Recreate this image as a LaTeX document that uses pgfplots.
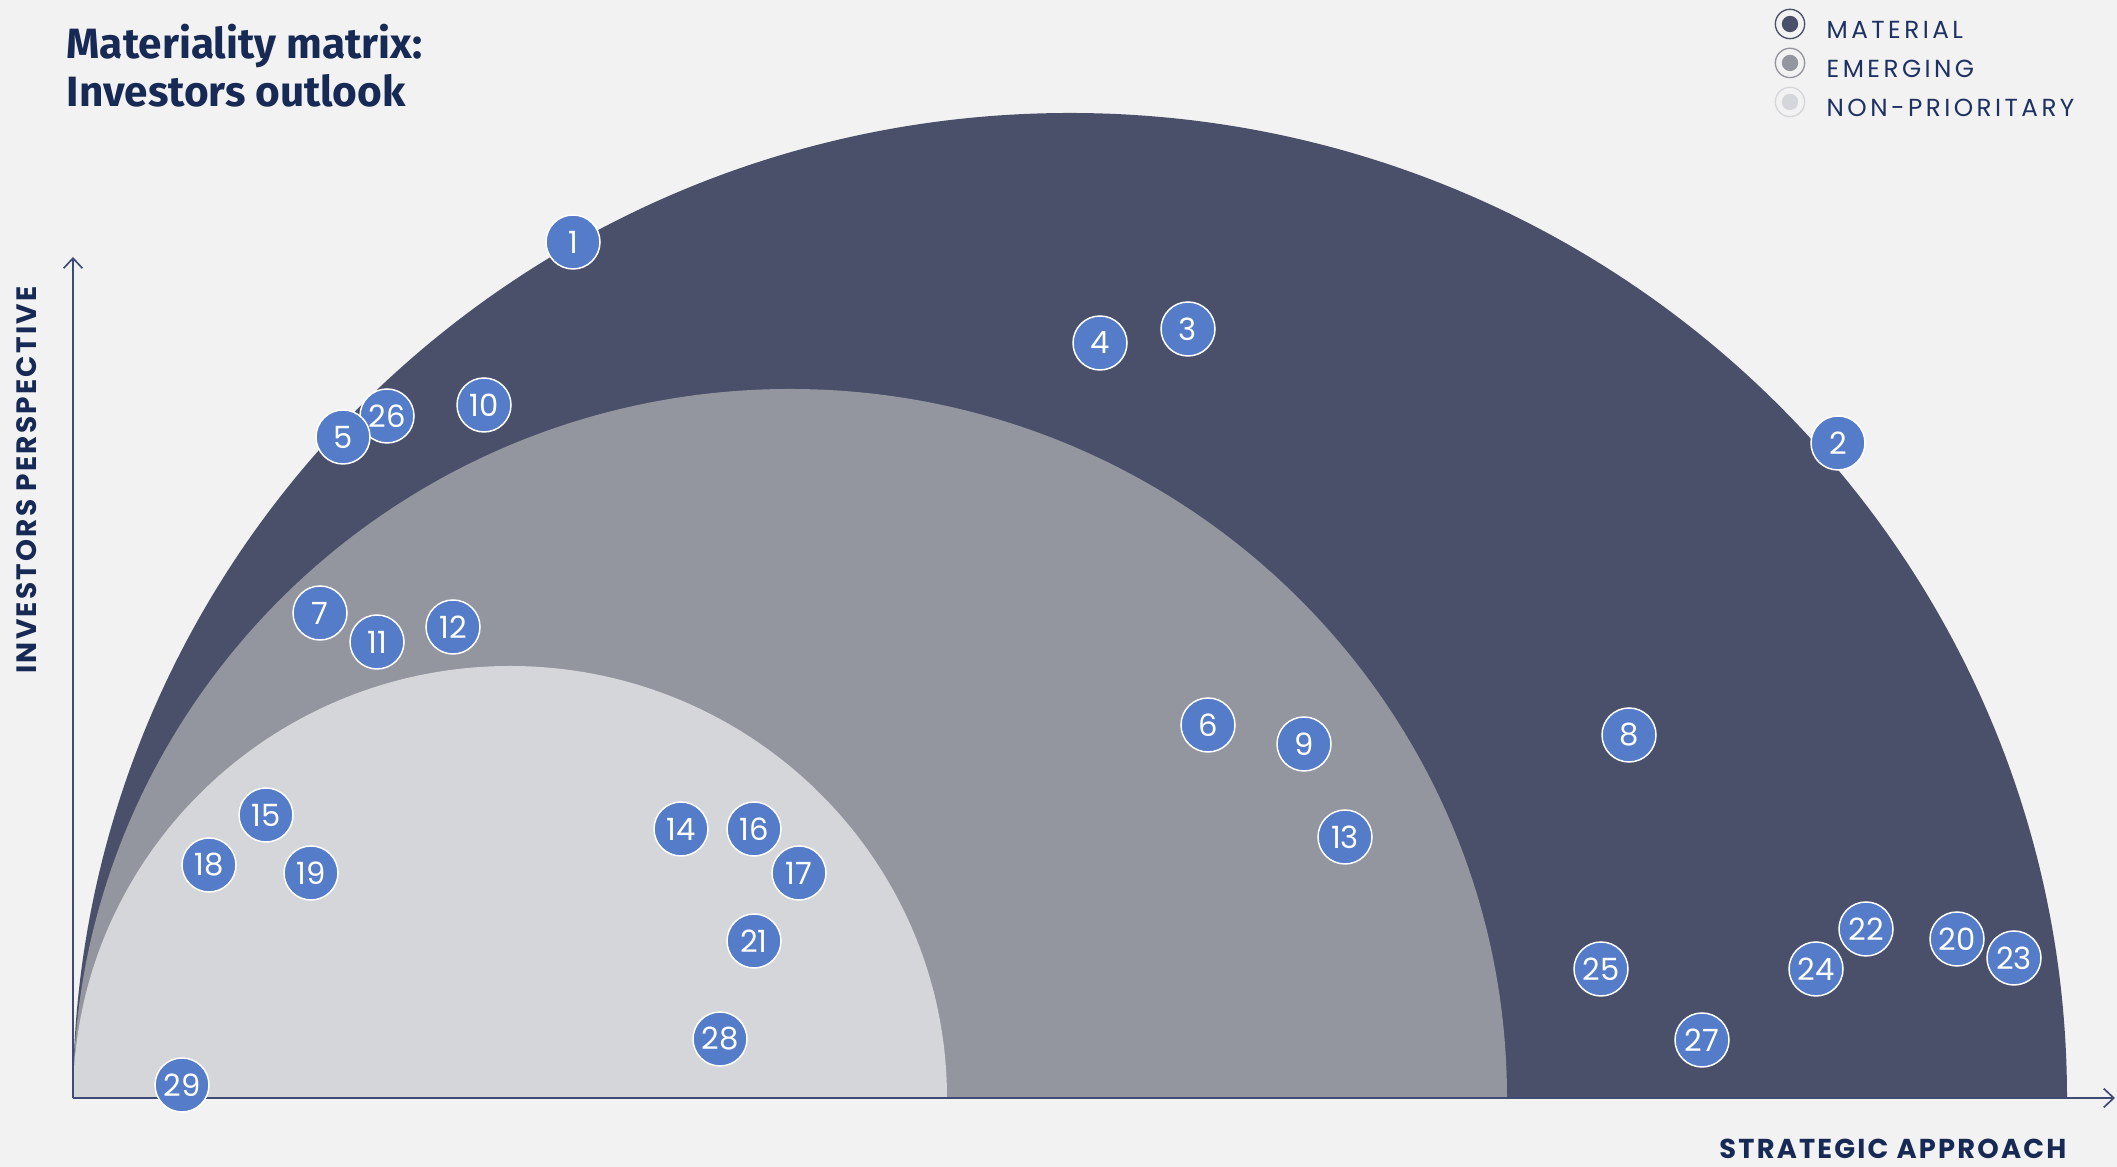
\documentclass[border=0pt]{standalone}
\usepackage{fontspec}
\setmainfont{Poppins}
\newfontfamily\titlefont{Fira Sans}
\newfontfamily\legfont[LetterSpace=14]{Poppins}
\newfontfamily\labfont[LetterSpace=8]{Poppins}
\usepackage{pgfplots}
\usepackage{pgfplotstable}
\pgfplotsset{compat=1.18}
\usetikzlibrary{arrows.meta}
\definecolor{bg}{HTML}{F2F2F2}
\definecolor{zdark}{HTML}{4A5069}
\definecolor{zmed}{HTML}{93959F}
\definecolor{zlight}{HTML}{D5D6DA}
\definecolor{bubble}{HTML}{547CC8}
\definecolor{navy}{HTML}{172A55}
\definecolor{legtext}{HTML}{1E3162}
\definecolor{axiscol}{HTML}{3D4B75}

\pgfplotstableread{
x y n
500 856 1
1765 655 2
1115 769 3
1027 755 4
314 682 26
270 661 5
1135 373 6
247 485 7
1556 363 8
1231 354 9
411 693 10
304 456 11
380 471 12
1272 261 13
608 269 14
193 283 15
681 269 16
726 225 17
136 233 18
238 225 19
1884 159 20
681 157 21
1793 169 22
1941 140 23
1743 129 24
1528 129 25
1629 58 27
647 59 28
109 13 29
}\bubbles

\begin{document}
\begin{tikzpicture}
\begin{axis}[
  scale only axis, width=635.1pt, height=350.1pt,
  xmin=-73, xmax=2044, ymin=-69, ymax=1098,
  hide axis, clip=false,
  legend style={draw=none, fill=none, at={(axis cs:1701,1090)}, anchor=north west,
    inner sep=0pt, row sep=1.35pt, font=\legfont\fontsize{7.4}{7.4}\selectfont, text=legtext,
    nodes={inner sep=0pt}},
  legend cell align=left,
  /tikz/every odd column/.append style={column sep=6.4pt},
]
\fill[bg] (axis cs:-73,-69) rectangle (axis cs:2044,1098);
\begin{scope}
\clip (axis cs:-73,0) rectangle (axis cs:2044,1098);
\fill[zdark] (axis cs:997,0) ellipse [x radius=299.1pt, y radius=295.5pt];
\fill[zmed] (axis cs:717,0) ellipse [x radius=215.1pt, y radius=212.7pt];
\fill[zlight] (axis cs:437,0) ellipse [x radius=131.1pt, y radius=129.6pt];
\end{scope}
\draw[axiscol, line width=0.5pt, -{Straight Barb[length=3pt,width=5.6pt]}] (axis cs:0,0) -- (axis cs:0,841);
\draw[axiscol, line width=0.5pt, -{Straight Barb[length=3pt,width=5.6pt]}] (axis cs:0,0) -- (axis cs:2042,0);

\addlegendimage{legend image code/.code={\draw[zdark, line width=0.4pt] (4.4pt,2.4pt) circle (4.4pt); \fill[zdark] (4.4pt,2.4pt) circle (2.25pt);}}
\addlegendentry{MATERIAL}
\addlegendimage{legend image code/.code={\draw[zmed, line width=0.4pt] (4.4pt,2.4pt) circle (4.4pt); \fill[zmed] (4.4pt,2.4pt) circle (2.25pt);}}
\addlegendentry{EMERGING}
\addlegendimage{legend image code/.code={\draw[zlight, line width=0.4pt] (4.4pt,2.4pt) circle (4.4pt); \fill[zlight] (4.4pt,2.4pt) circle (2.25pt);}}
\addlegendentry{NON-PRIORITARY}

\addplot[only marks, mark=*, mark size=8.1pt,
  mark options={fill=bubble, draw=white, line width=0.45pt},
  nodes near coords, point meta=explicit symbolic,
  nodes near coords style={anchor=center, inner sep=0pt, text=white, font=\fontsize{9.2}{9.2}\selectfont}]
  table[x=x, y=y, meta=n]{\bubbles};

\node[anchor=base west, inner sep=0pt, text=navy, font=\titlefont\bfseries\fontsize{12.7}{12.7}\selectfont] at (axis cs:-7,1039) {Materiality matrix:};
\node[anchor=base west, inner sep=0pt, text=navy, font=\titlefont\bfseries\fontsize{12.7}{12.7}\selectfont] at (axis cs:-7,991) {Investors outlook};
\node[rotate=90, anchor=center, text=navy, font=\labfont\bfseries\fontsize{8.4}{8.4}\selectfont] at (axis cs:-46,618) {INVESTORS PERSPECTIVE};
\node[anchor=base east, text=navy, inner sep=0pt, font=\labfont\bfseries\fontsize{8.2}{8.2}\selectfont] at (axis cs:1994,-61) {STRATEGIC APPROACH};
\end{axis}
\pgfresetboundingbox
\path[use as bounding box] (current axis.south west) rectangle (current axis.north east);
\end{tikzpicture}
\end{document}
